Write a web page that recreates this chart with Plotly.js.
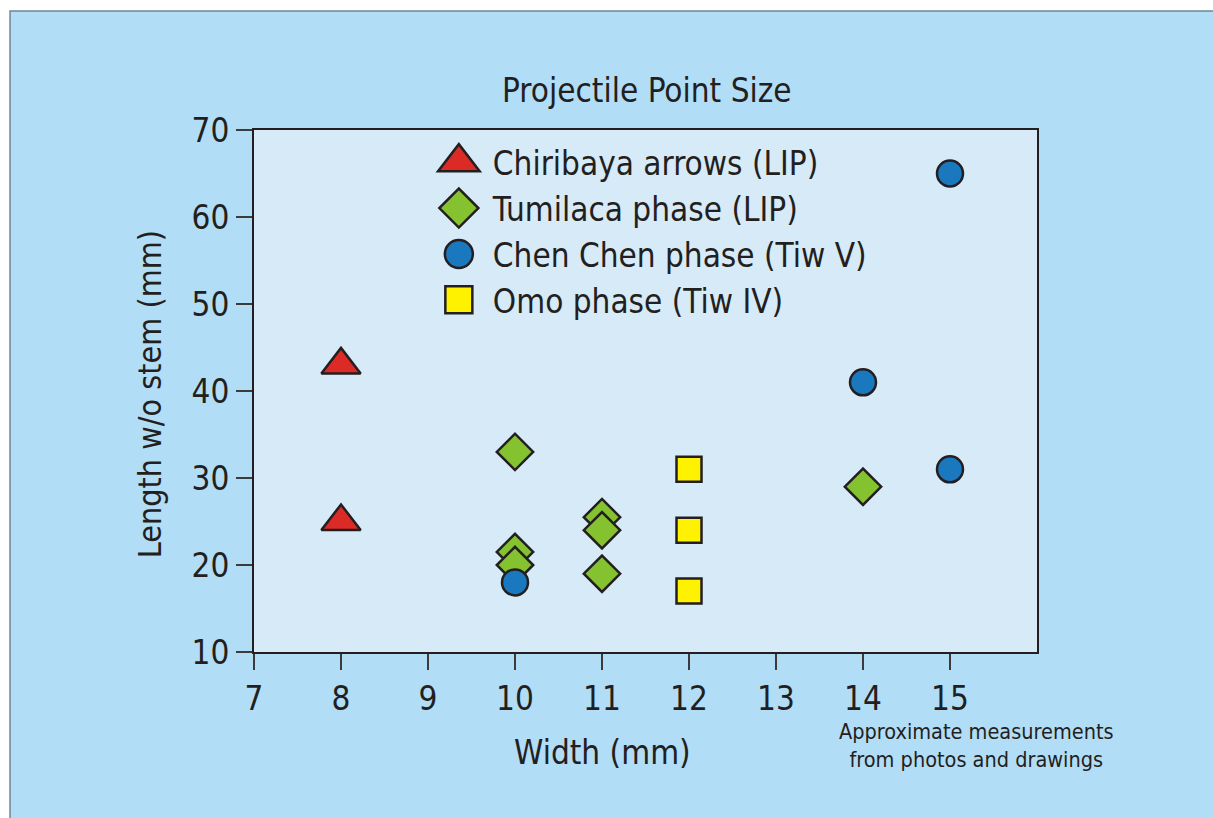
<!DOCTYPE html>
<html><head><meta charset="utf-8">
<script src="https://cdn.plot.ly/plotly-3.0.1.min.js"></script>
<style>body{margin:0;padding:0;background:#fff}#chart{width:1213px;height:818px}</style>
</head><body><div id="chart"></div>
<script>
// Data
var chiribayaX = [8, 8];
var chiribayaY = [43, 25];
var tumilacaX = [10, 10, 10, 11, 11, 11, 14];
var tumilacaY = [33, 21.5, 20, 25.5, 24, 19, 29];
var chenChenX = [10, 14, 15, 15];
var chenChenY = [18, 41, 65, 31];
var omoX = [12, 12, 12];
var omoY = [31, 24, 17];
var seriesNames = ['Chiribaya arrows (LIP)', 'Tumilaca phase (LIP)', 'Chen Chen phase (Tiw V)', 'Omo phase (Tiw IV)'];
var xTicks = [7, 8, 9, 10, 11, 12, 13, 14, 15];
var yTicks = [10, 20, 30, 40, 50, 60, 70];

var FONT = '"Liberation Sans Narrow", "DejaVu Sans Condensed", "Roboto Condensed", Arial, sans-serif';
var INK = '#231f20';

function mk(x, y, name, symbol, color, size) {
  return {x: x, y: y, name: name, type: 'scatter', mode: 'markers',
    marker: {symbol: symbol, color: color, size: size, line: {color: INK, width: 2.5}},
    hoverinfo: 'x+y'};
}
var traces = [
  mk(chiribayaX, chiribayaY, seriesNames[0], 'triangle-up', '#dc2a26', 34),
  mk(tumilacaX, tumilacaY, seriesNames[1], 'diamond', '#84c22f', 28),
  mk(chenChenX, chenChenY, seriesNames[2], 'circle', '#1a78be', 26),
  mk(omoX, omoY, seriesNames[3], 'square', '#fff200', 25)
];

var layout = {
  width: 1213, height: 818,
  margin: {l: 254, r: 176, t: 130, b: 166},
  paper_bgcolor: '#ffffff',
  plot_bgcolor: 'rgba(0,0,0,0)',
  font: {family: FONT, color: INK},
  showlegend: true,
  legend: {x: 0.2182, y: 0.992, xanchor: 'left', yanchor: 'top', bgcolor: 'rgba(0,0,0,0)', itemwidth: 58,
    font: {family: FONT, size: 33, color: INK}, tracegroupgap: 0},
  xaxis: {range: [7, 16], tickvals: xTicks, ticktext: xTicks.map(String), ticks: 'outside', ticklen: 16, tickwidth: 2,
    tickcolor: '#3b3b3b', showline: true, mirror: true, linecolor: INK, linewidth: 2, showgrid: false, zeroline: false,
    tickfont: {family: FONT, size: 33, color: INK}},
  yaxis: {range: [10, 70], tickvals: yTicks, ticktext: yTicks.map(String), ticks: 'outside', ticklen: 16, tickwidth: 2,
    tickcolor: '#3b3b3b', showline: true, mirror: true, linecolor: INK, linewidth: 2, showgrid: false, zeroline: false,
    tickfont: {family: FONT, size: 33, color: INK}},
  shapes: [
    {type: 'rect', xref: 'paper', yref: 'paper', x0: -0.3116, x1: 1.4, y0: -0.4, y1: 1.228, layer: 'below',
      fillcolor: '#b2ddf6', line: {color: '#6f8796', width: 1.5}},
    {type: 'rect', xref: 'paper', yref: 'paper', x0: 0, x1: 1, y0: 0, y1: 1, layer: 'below',
      fillcolor: '#d6eaf8', line: {width: 0}}
  ],
  annotations: [
    {text: 'Projectile Point Size', xref: 'paper', yref: 'paper', x: 0.502, y: 1.0766, xanchor: 'center', yanchor: 'middle',
      showarrow: false, font: {family: FONT, size: 33, color: INK}},
    {text: 'Width (mm)', xref: 'paper', yref: 'paper', x: 0.4457, y: -0.1916, xanchor: 'center', yanchor: 'middle',
      showarrow: false, font: {family: FONT, size: 33, color: INK}},
    {text: 'Length w/o stem (mm)', xref: 'paper', yref: 'paper', x: -0.1328, y: 0.494, xanchor: 'center', yanchor: 'middle',
      textangle: -90, showarrow: false, font: {family: FONT, size: 32, color: INK}},
    {text: 'Approximate measurements<br>from photos and drawings', xref: 'paper', yref: 'paper', x: 0.923, y: -0.18,
      xanchor: 'center', yanchor: 'middle', showarrow: false, align: 'center', font: {family: FONT, size: 21.5, color: INK}}
  ]
};

var legendSizes = [36, 30, 28, 27];
Plotly.newPlot('chart', traces, layout, {displayModeBar: false, staticPlot: true}).then(function (gd) {
  var items = gd.querySelectorAll('.legend .traces');
  items.forEach(function (g, i) {
    var p = g.querySelector('path.scatterpts');
    if (!p) return;
    var k = legendSizes[i] / 16;
    var t = p.getAttribute('transform') || '';
    p.setAttribute('transform', t + ' scale(' + k + ')');
    p.style.strokeWidth = (2.5 / k) + 'px';
  });
});
</script>
</body></html>
